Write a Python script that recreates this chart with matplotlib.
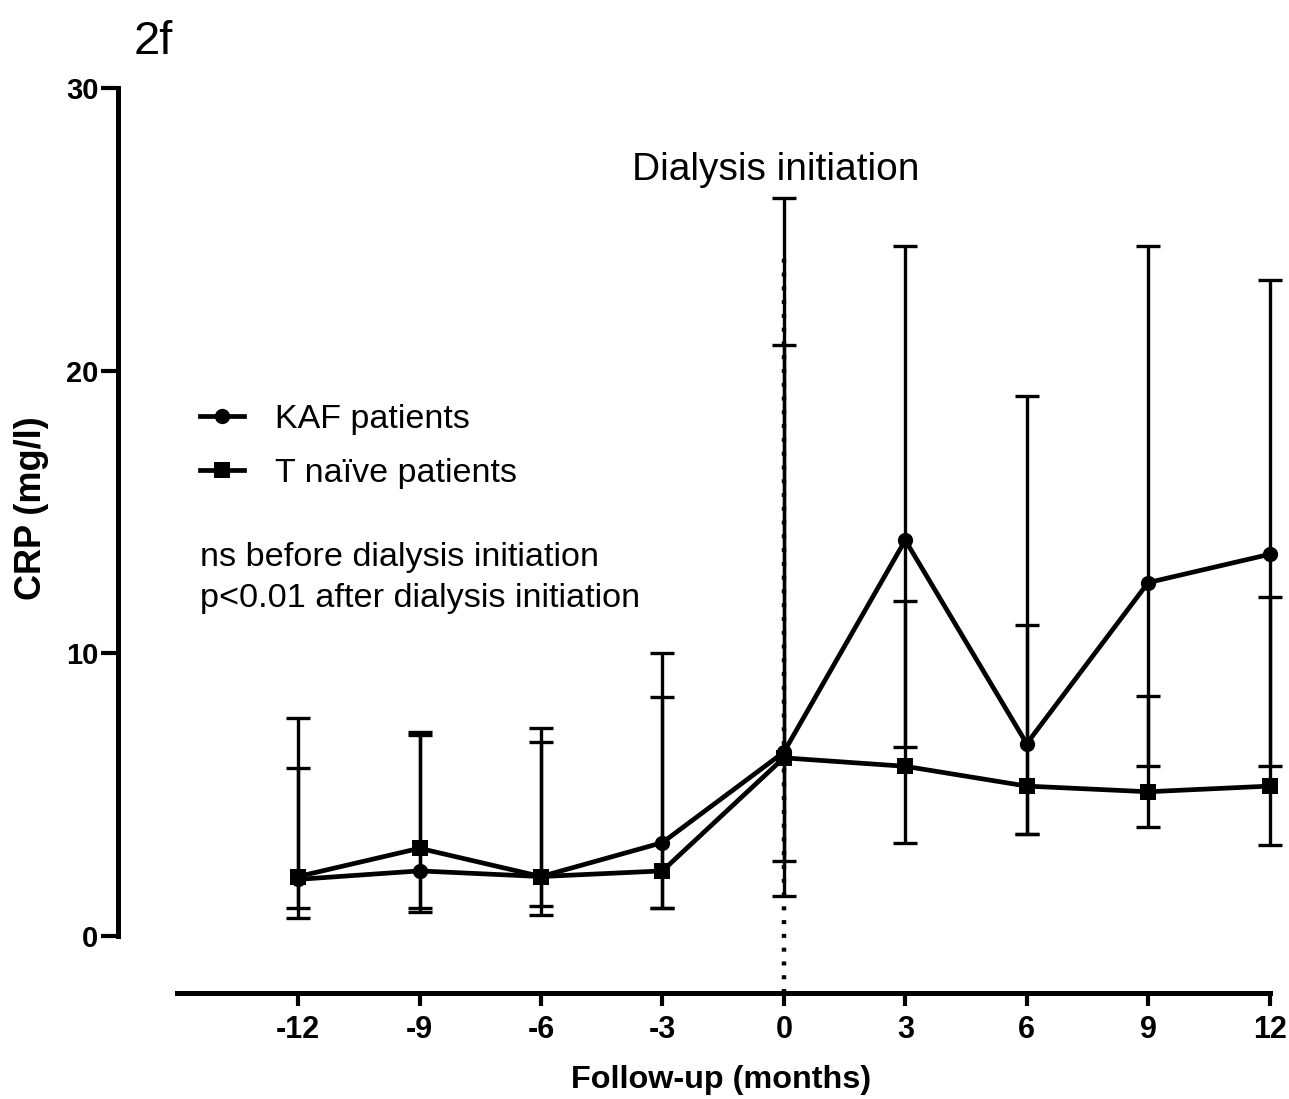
import matplotlib
matplotlib.use("Agg")
import matplotlib.pyplot as plt
import numpy as np

plt.rcParams['font.family'] = ['Liberation Sans', 'DejaVu Sans']

# Follow-up time points (months relative to dialysis initiation)
months = [-12, -9, -6, -3, 0, 3, 6, 9, 12]

# KAF patients: central value with lower / upper bounds of the spread
kaf_mean = [2.0, 2.3, 2.1, 3.3, 6.5, 14.0, 6.8, 12.5, 13.5]
kaf_low = [0.65, 0.85, 0.75, 1.0, 1.4, 6.7, 3.6, 6.0, 6.0]
kaf_high = [7.7, 7.2, 7.35, 10.0, 26.1, 24.4, 19.1, 24.4, 23.2]

# T naive patients
tn_mean = [2.1, 3.1, 2.1, 2.3, 6.3, 6.0, 5.3, 5.1, 5.3]
tn_low = [1.0, 1.0, 1.05, 1.0, 2.65, 3.3, 3.6, 3.85, 3.2]
tn_high = [5.95, 7.1, 6.85, 8.45, 20.9, 11.85, 11.0, 8.5, 12.0]

labels = ["KAF patients", "T naïve patients"]
yticks = [0, 10, 20, 30]

fig = plt.figure(figsize=(12.89, 10.99), dpi=100)
ax = fig.add_axes([0.0915, 0.09645, 0.906, 0.8364])

ymin = -2.02
ax.set_xlim(-16.45, 12.4)
ax.set_ylim(ymin, 30.5)


def yerr(mean, low, high):
    m = np.asarray(mean)
    return [m - np.asarray(low), np.asarray(high) - m]


common = dict(color='black', lw=3.4, elinewidth=2.4, capsize=8.5, capthick=2.4,
              markersize=11, zorder=3)
c1 = ax.errorbar(months, kaf_mean, yerr=yerr(kaf_mean, kaf_low, kaf_high),
                 marker='o', **common)
c2 = ax.errorbar(months, tn_mean, yerr=yerr(tn_mean, tn_low, tn_high),
                 marker='s', **common)
for c in (c1, c2):
    c[0].set_markeredgewidth(0)
    for cap in c[1]:
        cap.set_markeredgewidth(2.4)

# Dotted marker of dialysis initiation
ax.plot([0, 0], [ymin, 24], color='black', lw=3.2,
        linestyle=(0, (0.9, 2.2)), zorder=2)

# Axes styling (offset Prism-like axes)
for s in ['top', 'right']:
    ax.spines[s].set_visible(False)
ax.spines['left'].set_bounds(0, 30)
ax.spines['bottom'].set_bounds(-15, 12)
ax.spines['left'].set_linewidth(3.6)
ax.spines['bottom'].set_linewidth(3.6)

ax.set_xticks(months)
ax.set_xticklabels([str(m) for m in months])
ax.set_yticks(yticks)
ax.tick_params(axis='x', direction='out', length=9, width=3, pad=7,
               labelsize=22)
ax.tick_params(axis='y', direction='out', length=12, width=3, pad=2,
               labelsize=21)
for t in ax.get_xticklabels() + ax.get_yticklabels():
    t.set_fontweight('bold')

ax.legend([c1[0], c2[0]], labels, loc='upper left', frameon=False,
          bbox_to_anchor=(0.155, 1 - 404 / 1099), bbox_transform=fig.transFigure,
          fontsize=24.5, handlelength=1.3, handletextpad=0.9, labelspacing=0.68,
          borderaxespad=0, borderpad=0)

fig.text(200 / 1289, 1 - 578 / 1099,
         "ns before dialysis initiation\np<0.01 after dialysis initiation",
         fontsize=24.7, ha='left', va='center', linespacing=1.42)
fig.text(776 / 1289, 1 - 170 / 1099, "Dialysis initiation",
         fontsize=28, ha='center', va='center')
fig.text(153 / 1289, 1 - 42 / 1099, "2f", fontsize=34, ha='center',
         va='center')
fig.text(721 / 1289, 1 - 1080 / 1099, "Follow-up (months)", fontsize=23.3,
         fontweight='bold', ha='center', va='center')
fig.text(32 / 1289, 1 - 508 / 1099, "CRP (mg/l)", fontsize=26,
         fontweight='bold', ha='center', va='center', rotation=90)

fig.savefig("out.png", dpi=100)
